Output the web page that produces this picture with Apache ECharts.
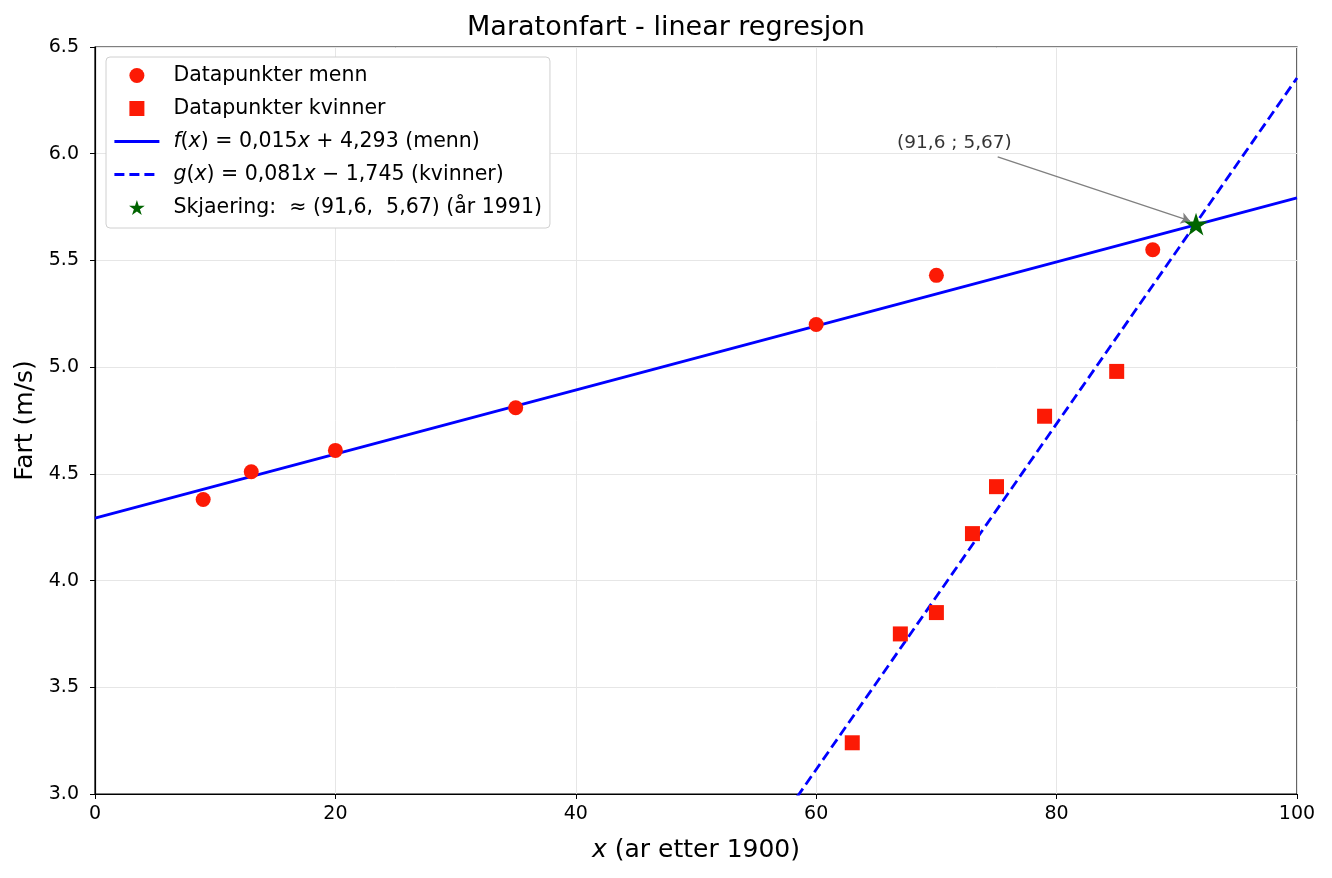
<!DOCTYPE html>
<html>
<head>
<meta charset="utf-8">
<title>Maratonfart</title>
<script src="https://cdn.jsdelivr.net/npm/echarts@6/dist/echarts.min.js"></script>
<style>
	html, body { margin: 0; padding: 0; background: #fff; }
	#main { width: 1332px; height: 878px; }
</style>
</head>
<body>
<div id="main"></div>
<script>
// data points (x = år etter 1900, fart i m/s)
var menX = [9, 13, 20, 35, 60, 70, 88];
var menY = [4.38, 4.51, 4.61, 4.81, 5.20, 5.43, 5.55];
var kvX = [63, 67, 70, 73, 75, 79, 85];
var kvY = [3.24, 3.75, 3.85, 4.22, 4.44, 4.77, 4.98];

// regresjonslinjer: [stigning, konstantledd]
var fCoef = [0.015, 4.293];
var gCoef = [0.081, -1.745];
var lineX = [0, 100];

// skjæringspunkt og merknad
var skjaering = [91.6, 5.67];
var merknadTekst = '(91,6 ; 5,67)';
var merknadPos = [71.5, 6.05];
var pilStart = [75.1, 5.985];
var pilSlutt = [91.1, 5.685];

var xTicks = [0, 20, 40, 60, 80, 100];
var yTicks = [3.0, 3.5, 4.0, 4.5, 5.0, 5.5, 6.0, 6.5];

var FONT = 'DejaVu Sans';
var LW = 2.8;

function pairs(xs, ys) {
	return xs.map(function(x, i) { return [x, ys[i]]; });
}
function linje(coef) {
	return lineX.map(function(x) { return [x, coef[0] * x + coef[1]]; });
}

var navn = {
	menn: 'Datapunkter menn',
	kvinner: 'Datapunkter kvinner',
	f: 'f(x) (menn)',
	g: 'g(x) (kvinner)',
	s: 'Skjaering'
};
// legendetekst med kursiv
var legendeTekst = {};
legendeTekst[navn.menn] = 'Datapunkter menn';
legendeTekst[navn.kvinner] = 'Datapunkter kvinner';
legendeTekst[navn.f] = '{i|f}({i|x}) = 0,015{i|x} + 4,293 (menn)';
legendeTekst[navn.g] = '{i|g}({i|x}) = 0,081{i|x} − 1,745 (kvinner)';
legendeTekst[navn.s] = 'Skjaering:  ≈ (91,6,  5,67) (år 1991)';

var starPath = 'path://M50,0 L61.8,36.2 L100,36.2 L69.1,58.8 L80.9,95.1 L50,72.4 L19.1,95.1 L30.9,58.8 L0,36.2 L38.2,36.2 Z';
var squarePath = 'path://M0,0 L10,0 L10,10 L0,10 Z';

var chart = echarts.init(document.getElementById('main'));
chart.setOption({
	backgroundColor: '#fff',
	animation: false,
	textStyle: { fontFamily: FONT },
	title: {
		text: 'Maratonfart - linear regresjon',
		left: 'center',
		top: 9,
		textStyle: { fontFamily: FONT, fontSize: 27, fontWeight: 'normal', color: '#000' }
	},
	grid: {
		left: 95, right: 35, top: 47, bottom: 84,
		show: true, borderColor: '#000', borderWidth: 1.2
	},
	legend: {
		data: [
			{ name: navn.menn },
			{ name: navn.kvinner },
			{ name: navn.f, itemStyle: { opacity: 0 }, lineStyle: { width: LW } },
			{ name: navn.g, itemStyle: { opacity: 0 }, lineStyle: { width: LW } },
			{ name: navn.s }
		],
		orient: 'vertical',
		left: 106, top: 57,
		padding: [8, 8, 10, 7],
		itemGap: 12,
		itemWidth: 45,
		itemHeight: 15,
		backgroundColor: '#fff',
		borderColor: '#d0d0d0',
		borderWidth: 1,
		borderRadius: 4,
		formatter: function(name) { return legendeTekst[name]; },
		textStyle: {
			fontFamily: FONT, fontSize: 20.5, color: '#000', padding: [0, 0, 0, 9],
			rich: { i: { fontFamily: FONT, fontStyle: 'italic', fontSize: 20.5 } }
		}
	},
	xAxis: {
		type: 'value',
		min: 0, max: 100, interval: 20,
		name: '{i|x} (ar etter 1900)',
		nameLocation: 'middle',
		nameGap: 44,
		nameTextStyle: {
			fontFamily: FONT, fontSize: 25, color: '#000',
			rich: { i: { fontFamily: FONT, fontStyle: 'italic', fontSize: 25 } }
		},
		axisLine: { show: true, lineStyle: { color: '#000', width: 1.2 } },
		axisTick: { show: true, length: 5, lineStyle: { color: '#000' } },
		axisLabel: { fontFamily: FONT, fontSize: 19, color: '#000', margin: 11 },
		splitLine: { show: true, lineStyle: { color: '#e6e6e6', width: 1 } }
	},
	yAxis: {
		type: 'value',
		min: 3.0, max: 6.5, interval: 0.5,
		name: 'Fart (m/s)',
		nameLocation: 'middle',
		nameGap: 56,
		nameTextStyle: { fontFamily: FONT, fontSize: 25, color: '#000' },
		axisLine: { show: true, lineStyle: { color: '#000', width: 1.2 } },
		axisTick: { show: true, length: 5, lineStyle: { color: '#000' } },
		axisLabel: {
			fontFamily: FONT, fontSize: 19, color: '#000', margin: 16,
			formatter: function(v) { return v.toFixed(1); }
		},
		splitLine: { show: true, lineStyle: { color: '#e6e6e6', width: 1 } }
	},
	series: [
		{
			name: navn.f,
			type: 'line',
			data: linje(fCoef),
			symbol: 'none',
			clip: true,
			lineStyle: { color: '#0000ff', width: LW },
			itemStyle: { color: '#0000ff' },
			z: 2
		},
		{
			name: navn.g,
			type: 'line',
			data: linje(gCoef),
			symbol: 'none',
			clip: true,
			lineStyle: { color: '#0000ff', width: LW, type: [10, 5] },
			itemStyle: { color: '#0000ff' },
			z: 2
		},
		{
			name: navn.menn,
			type: 'scatter',
			data: pairs(menX, menY),
			symbol: 'circle',
			symbolSize: 15,
			itemStyle: { color: '#fc1a05', opacity: 1 },
			z: 3
		},
		{
			name: navn.kvinner,
			type: 'scatter',
			data: pairs(kvX, kvY),
			symbol: squarePath,
			symbolKeepAspect: true,
			symbolSize: 15,
			itemStyle: { color: '#fc1a05', opacity: 1 },
			z: 3
		},
		{
			name: navn.s,
			type: 'scatter',
			data: [skjaering],
			symbol: starPath,
			symbolKeepAspect: true,
			symbolSize: 24,
			itemStyle: { color: '#006400', opacity: 1 },
			z: 5
		},
		{
			// merknad med pil
			name: 'merknad',
			type: 'scatter',
			data: [merknadPos],
			symbolSize: 0,
			silent: true,
			label: {
				show: true,
				position: 'inside',
				formatter: merknadTekst,
				fontFamily: FONT,
				fontSize: 18.5,
				color: '#000'
			},
			markLine: {
				silent: true,
				symbol: ['none', 'arrow'],
				symbolSize: [9, 9],
				label: { show: false },
				lineStyle: { color: '#808080', width: 1.3, type: 'solid' },
				data: [[{ coord: pilStart }, { coord: pilSlutt }]]
			},
			z: 4
		}
	]
});
</script>
</body>
</html>
